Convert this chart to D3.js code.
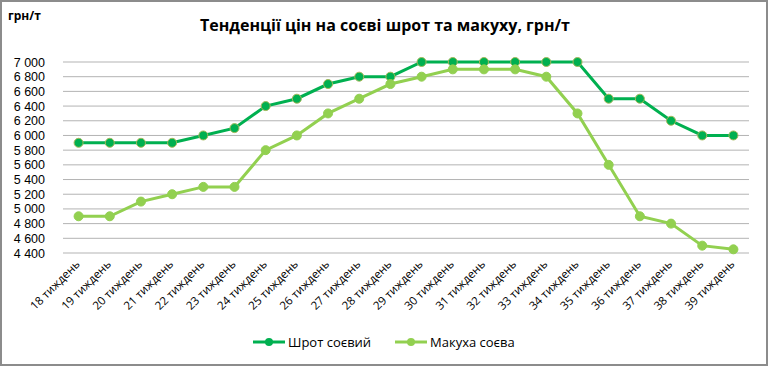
<html>
<head>
<meta charset="utf-8">
<style>
  body { margin: 0; background: #fff; }
  svg { display: block; font-family: "Open Sans", Arial, sans-serif; }
</style>
<script src="https://cdn.jsdelivr.net/npm/d3@7"></script>
</head>
<body>
<svg id="chart"></svg>
<script>
const weeks = ["18 тиждень","19 тиждень","20 тиждень","21 тиждень","22 тиждень","23 тиждень","24 тиждень","25 тиждень","26 тиждень","27 тиждень","28 тиждень","29 тиждень","30 тиждень","31 тиждень","32 тиждень","33 тиждень","34 тиждень","35 тиждень","36 тиждень","37 тиждень","38 тиждень","39 тиждень"];
const shrot = [5900,5900,5900,5900,6000,6100,6400,6500,6700,6800,6800,7000,7000,7000,7000,7000,7000,6500,6500,6200,6000,6000];
const makukha = [4900,4900,5100,5200,5300,5300,5800,6000,6300,6500,6700,6800,6900,6900,6900,6800,6300,5600,4900,4800,4500,4450];
const yTicks = [4400,4600,4800,5000,5200,5400,5600,5800,6000,6200,6400,6600,6800,7000];
const seriesNames = ["Шрот соєвий", "Макуха соєва"];
const colors = ["#00b050", "#92d050"];

const width = 768, height = 366;
const svg = d3.select("#chart").attr("width", width).attr("height", height);

// frame
svg.append("rect").attr("x", 1).attr("y", 1).attr("width", width - 2).attr("height", height - 2)
  .attr("fill", "#fff").attr("stroke", "#8c8c8c").attr("stroke-width", 2);

svg.append("text").attr("x", 385).attr("y", 31).attr("text-anchor", "middle")
  .attr("font-size", 16).attr("font-weight", "bold").attr("fill", "#000")
  .text("Тенденції цін на соєві шрот та макуху, грн/т");
svg.append("text").attr("x", 8).attr("y", 20)
  .attr("font-size", 12).attr("font-weight", "bold").attr("fill", "#000").text("грн/т");

const x = d3.scaleBand().domain(weeks).range([63, 749]);
const y = d3.scaleLinear().domain([4400, 7000]).range([253, 62]);

// gridlines
svg.append("g").selectAll("line").data(yTicks).enter().append("line")
  .attr("x1", 63).attr("x2", 749)
  .attr("y1", d => y(d)).attr("y2", d => y(d))
  .attr("stroke", "#b3b3b3").attr("stroke-width", 1);

// y labels
const fmt = d => d3.format(",")(d).replace(",", " ");
svg.append("g").selectAll("text").data(yTicks).enter().append("text")
  .attr("x", 45).attr("y", d => y(d) + 4.5)
  .attr("text-anchor", "end").attr("font-size", 12.5)
  .attr("font-family", "'Liberation Sans', Arial, sans-serif").attr("fill", "#000")
  .text(fmt);

// x labels
svg.append("g").selectAll("text").data(weeks).enter().append("text")
  .attr("transform", d => "translate(" + (x(d) + x.bandwidth() / 2 + 2) + ",265) rotate(-45)")
  .attr("text-anchor", "end").attr("font-size", 11.5).attr("fill", "#000")
  .text(d => d);

const cx = d => x(d) + x.bandwidth() / 2;
const line = d3.line().x((d, i) => cx(weeks[i])).y(d => y(d));

[shrot, makukha].forEach((vals, k) => {
  const g = svg.append("g");
  g.append("path").datum(vals).attr("d", line)
    .attr("fill", "none").attr("stroke", colors[k]).attr("stroke-width", 3);
  g.selectAll("circle").data(vals).enter().append("circle")
    .attr("cx", (d, i) => cx(weeks[i])).attr("cy", d => y(d)).attr("r", 4.5)
    .attr("fill", colors[k])
    .attr("stroke", k === 0 ? "#a5b85a" : colors[k]).attr("stroke-width", 1);
});

// legend
const legendX = [253, 395];
seriesNames.forEach((name, k) => {
  const lg = svg.append("g").attr("transform", "translate(" + legendX[k] + ",342)");
  lg.append("line").attr("x1", 0).attr("x2", 32).attr("stroke", colors[k]).attr("stroke-width", 3);
  lg.append("circle").attr("cx", 16).attr("r", 4).attr("fill", colors[k]);
  lg.append("text").attr("x", 35).attr("y", 5).attr("font-size", 13).attr("fill", "#000").text(name);
});
</script>
</body>
</html>
